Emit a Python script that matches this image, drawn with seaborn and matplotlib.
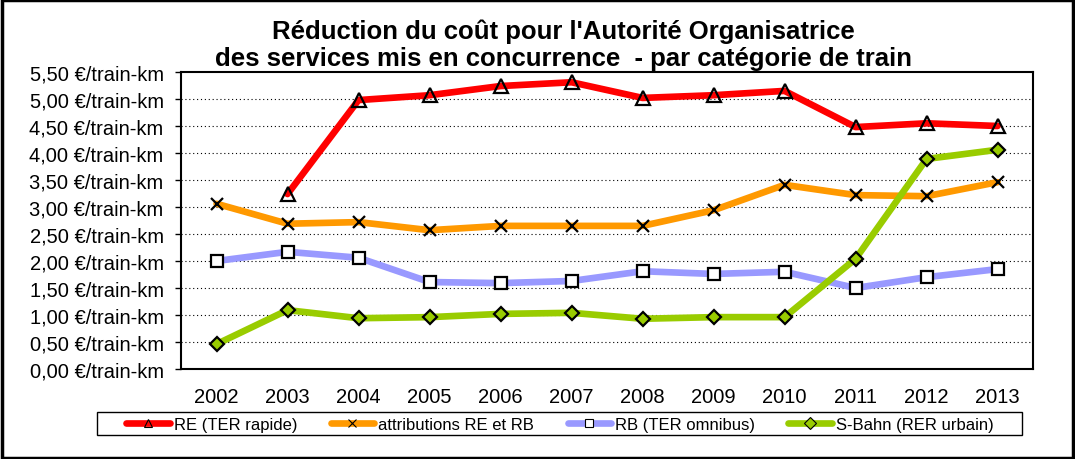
import numpy as np
import pandas as pd
import seaborn as sns
import matplotlib.pyplot as plt
from matplotlib.lines import Line2D
from matplotlib.patches import Rectangle

years = ['2002', '2003', '2004', '2005', '2006', '2007', '2008', '2009', '2010', '2011', '2012', '2013']
re_rapide = [np.nan, 3.24, 4.98, 5.07, 5.24, 5.31, 5.02, 5.07, 5.15, 4.48, 4.55, 4.50]
attributions = [3.06, 2.69, 2.72, 2.57, 2.65, 2.65, 2.65, 2.94, 3.41, 3.22, 3.20, 3.46]
rb_omnibus = [2.00, 2.17, 2.06, 1.61, 1.59, 1.63, 1.81, 1.76, 1.80, 1.50, 1.70, 1.85]
s_bahn = [0.46, 1.09, 0.94, 0.96, 1.02, 1.04, 0.93, 0.96, 0.96, 2.04, 3.89, 4.06]

series_names = ['RE (TER rapide)', 'attributions RE et RB', 'RB (TER omnibus)', 'S-Bahn (RER urbain)']

sns.set_style('white')
plt.rcParams['font.family'] = ['Liberation Sans', 'DejaVu Sans']
plt.rcParams['text.color'] = 'black'
plt.rcParams['xtick.color'] = 'black'
plt.rcParams['ytick.color'] = 'black'

fig = plt.figure(figsize=(10.75, 4.6), dpi=100)
ax = fig.add_axes([0.1684, 0.1957, 0.7926, 0.6456])

styles = [
    dict(color='#ff0000', marker='^', mfc='none', ms=10),
    dict(color='#ff9900', marker='x', mfc='none', ms=9),
    dict(color='#9999ff', marker='s', mfc='white', ms=9),
    dict(color='#99cc00', marker='D', mfc='#99cc00', ms=7.5),
]

x = np.arange(len(years))
handles = []
for name, vals, st in zip(series_names, [re_rapide, attributions, rb_omnibus, s_bahn], styles):
    df = pd.DataFrame({'x': x, 'y': vals}).dropna()
    sns.lineplot(data=df, x='x', y='y', ax=ax, color=st['color'], lw=4.8,
                 marker=st['marker'], markersize=st['ms'], markerfacecolor=st['mfc'],
                 markeredgecolor='black', markeredgewidth=1.6)
    handles.append(Line2D([0], [0], color=st['color'], lw=4.8, marker=st['marker'],
                          markersize=6, markerfacecolor=st['mfc'], markeredgecolor='black',
                          markeredgewidth=0.8, label=name))

ax.set_xlim(-0.5, len(years) - 0.5)
ax.set_ylim(0, 5.5)
yt = np.arange(0, 5.51, 0.5)
ax.set_yticks(yt)
ax.set_yticklabels([f'{v:.2f}'.replace('.', ',') + ' €/train-km' for v in yt], fontsize=14.5)
ax.set_xticks(x)
ax.set_xticklabels(years, fontsize=14.5)
ax.set_xticks(np.arange(-0.5, len(years), 1), minor=True)
ax.tick_params(axis='x', which='major', length=0, pad=13)
ax.tick_params(axis='x', which='minor', length=5, width=1, direction='out', color='black')
ax.tick_params(axis='y', length=4.5, width=1, direction='out', color='black', left=True, pad=8)
for v in yt[1:-1]:
    ax.axhline(v, color='black', lw=0.8, ls=(0, (1, 2.5)), zorder=0)
for s in ax.spines.values():
    s.set_color('black')
    s.set_linewidth(1.5)
ax.set_xlabel('')
ax.set_ylabel('')

fig.text(0.524, 1 - 39 / 460, "Réduction du coût pour l'Autorité Organisatrice",
         ha='center', va='baseline', fontsize=18.5, fontweight='bold')
fig.text(0.524, 1 - 66 / 460, "des services mis en concurrence  - par catégorie de train",
         ha='center', va='baseline', fontsize=18.5, fontweight='bold')

# legend entries spread inside a separately drawn box
fig.legend(handles=handles, loc='lower left', bbox_to_anchor=(123 / 1075, 0.0522, 874 / 1075, 0.05),
           mode='expand', ncol=4, fontsize=12, frameon=False,
           handlelength=2.6, handletextpad=0.25, columnspacing=1.75, borderpad=0.2,
           borderaxespad=0)
fig.patches.append(Rectangle((97 / 1075, 24 / 460), 925 / 1075, 23 / 460, transform=fig.transFigure,
                             fill=False, edgecolor='black', lw=1.0))

fig.patches.append(Rectangle((0.002, 0.003), 0.996, 0.994, transform=fig.transFigure,
                             fill=False, edgecolor='black', lw=2.5))

fig.savefig('out.png', dpi=100)
